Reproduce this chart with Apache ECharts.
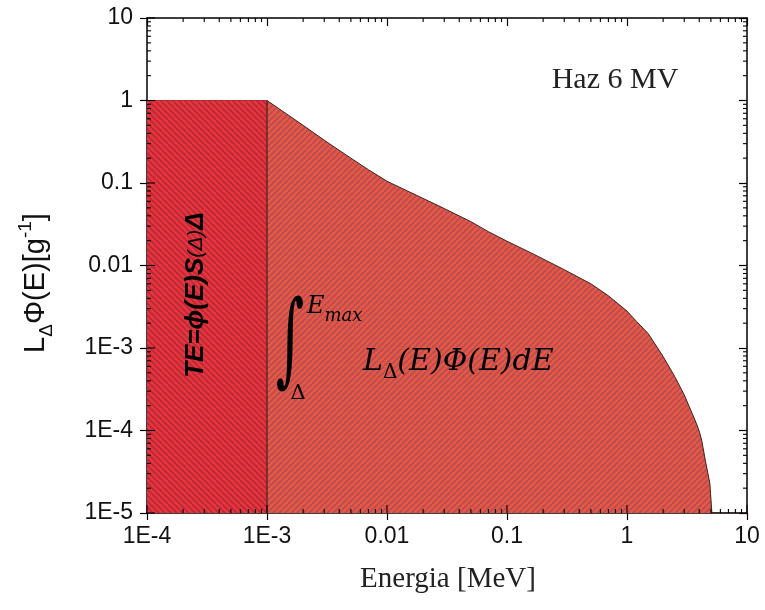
<!DOCTYPE html>
<html>
<head>
<meta charset="utf-8">
<script src="https://cdn.jsdelivr.net/npm/echarts@6/dist/echarts.min.js"></script>
<style>
  html, body { margin: 0; padding: 0; background: #fff; }
  #chart { width: 765px; height: 610px; }
</style>
</head>
<body>
<div id="chart"></div>
<script>
// Bloque izquierdo (1E-4 .. 1E-3), valor constante 1
const energiaBloque = [1e-4, 1e-3, 1e-3];
const valorBloque = [1, 1, 1e-5];

// Curva L_delta * Phi(E), haz 6 MV
const energiaCurva = [1e-3, 1e-3, 2e-3, 3e-3, 5e-3, 7e-3, 0.01, 0.02, 0.03, 0.05, 0.07, 0.1, 0.15, 0.2, 0.3, 0.5, 0.7, 1, 1.2, 1.5, 1.8, 2, 2.5, 3, 3.5, 3.8, 4, 4.2, 4.5, 4.9, 5.1, 10];
const valorCurva = [1e-5, 1, 0.5, 0.33, 0.2, 0.145, 0.105, 0.065, 0.049, 0.034, 0.0257, 0.0197, 0.0148, 0.012, 0.0089, 0.006, 0.0043, 0.0028, 0.0021, 0.0015, 0.001, 7.9e-4, 4.5e-4, 2.7e-4, 1.6e-4, 1.2e-4, 9.8e-5, 7.5e-5, 4.3e-5, 2.3e-5, 1e-5, 1e-5];

// Décadas de los ejes
const decadasX = [1e-4, 1e-3, 0.01, 0.1, 1, 10];
const decadasY = [1e-5, 1e-4, 1e-3, 0.01, 0.1, 1, 10];

const xMin = decadasX[0], xMax = decadasX[decadasX.length - 1];
const yMin = decadasY[0], yMax = decadasY[decadasY.length - 1];

// ticks menores 2..9 por década
function menores(decadas) {
  const out = [];
  for (let i = 0; i < decadas.length - 1; i++) {
    for (let k = 2; k <= 9; k++) out.push(decadas[i] * k);
  }
  return out;
}
const menoresX = menores(decadasX);
const menoresY = menores(decadasY);

function etiqueta(v) {
  const e = Math.round(Math.log10(v));
  return e >= -2 ? String(Math.pow(10, e)) : '1E' + e;
}

// textura rayada
function rayado(fondo, raya, dir) {
  const s = 6;
  const c = document.createElement('canvas');
  c.width = s; c.height = s;
  const ctx = c.getContext('2d');
  ctx.fillStyle = fondo;
  ctx.fillRect(0, 0, s, s);
  ctx.strokeStyle = raya;
  ctx.lineWidth = 1.6;
  ctx.beginPath();
  for (const i of [-1, 0, 1]) {
    if (dir > 0) { ctx.moveTo(i * s, 0); ctx.lineTo(i * s + s, s); }
    else { ctx.moveTo(i * s, s); ctx.lineTo(i * s + s, 0); }
  }
  ctx.stroke();
  return c;
}

const linea = (x1, y1, x2, y2) => ({
  type: 'line', shape: { x1: x1, y1: y1, x2: x2, y2: y2 }, style: { stroke: '#000', lineWidth: 1.1 }
});

// marcas menores (y mayores hacia dentro) a partir de las escalas del gráfico
function dibujaMarcas(params, api) {
  const a = api.coord([xMin, yMin]);
  const b = api.coord([xMax, yMax]);
  const left = a[0], bottom = a[1], right = b[0], top = b[1];
  const ch = [];
  menoresX.forEach(v => {
    const px = api.coord([v, yMin])[0];
    ch.push(linea(px, bottom, px, bottom - 4));
    ch.push(linea(px, top, px, top + 4));
  });
  decadasX.forEach(v => {
    const px = api.coord([v, yMin])[0];
    ch.push(linea(px, bottom, px, bottom - 8));
  });
  menoresY.forEach(v => {
    const py = api.coord([xMin, v])[1];
    ch.push(linea(left, py, left + 4, py));
    ch.push(linea(right, py, right - 4, py));
  });
  decadasY.forEach(v => {
    const py = api.coord([xMin, v])[1];
    ch.push(linea(left, py, left + 8, py));
  });
  return { type: 'group', children: ch };
}

const chart = echarts.init(document.getElementById('chart'));

const ejeX = {
  type: 'log', logBase: 10, min: xMin, max: xMax, splitNumber: 6,
  axisLine: { lineStyle: { color: '#000', width: 1.5 } },
  splitLine: { show: false }
};
const ejeY = {
  type: 'log', logBase: 10, min: yMin, max: yMax, splitNumber: 7,
  axisLine: { lineStyle: { color: '#000', width: 1.5 } },
  splitLine: { show: false }
};

chart.setOption({
  animation: false,
  backgroundColor: '#fff',
  grid: { left: 147, right: 18, top: 18, bottom: 97 },
  xAxis: [
    Object.assign({}, ejeX, {
      position: 'bottom',
      axisTick: { show: true, inside: false, length: 7, lineStyle: { color: '#000', width: 1.2 } },
      axisLabel: { formatter: etiqueta, color: '#111', fontFamily: 'Liberation Sans', fontSize: 23, margin: 12 }
    }),
    Object.assign({}, ejeX, {
      position: 'top',
      axisTick: { show: true, inside: true, length: 8, lineStyle: { color: '#000', width: 1.2 } },
      axisLabel: { show: false }
    })
  ],
  yAxis: [
    Object.assign({}, ejeY, {
      position: 'left',
      axisTick: { show: true, inside: false, length: 7, lineStyle: { color: '#000', width: 1.2 } },
      axisLabel: { formatter: etiqueta, color: '#111', fontFamily: 'Liberation Sans', fontSize: 23, margin: 14 }
    }),
    Object.assign({}, ejeY, {
      position: 'right',
      axisTick: { show: true, inside: true, length: 8, lineStyle: { color: '#000', width: 1.2 } },
      axisLabel: { show: false }
    })
  ],
  series: [
    // las marcas van primero en la lista y con z alto para quedar encima
    {
      type: 'custom',
      data: [[1, 1]],
      clip: false,
      z: 10,
      renderItem: dibujaMarcas
    },
    {
      type: 'line',
      data: energiaBloque.map((e, i) => [e, valorBloque[i]]),
      showSymbol: false,
      lineStyle: { color: '#b82a33', width: 1 },
      areaStyle: { origin: 'start', opacity: 1, color: { image: rayado('#e8353b', '#b4283a', 1), repeat: 'repeat' } }
    },
    {
      type: 'line',
      data: energiaCurva.map((e, i) => [e, valorCurva[i]]),
      showSymbol: false,
      lineStyle: { color: '#3a2424', width: 1 },
      areaStyle: { origin: 'start', opacity: 1, color: { image: rayado('#e8583f', '#b04c5c', -1), repeat: 'repeat' } }
    }
  ],
  graphic: [
    {
      type: 'text', x: 36, y: 283, rotation: Math.PI / 2,
      style: {
        text: '{n|L}{s|Δ}{n|Φ(E)[g}{p|-1}{n|]}',
        align: 'center', verticalAlign: 'middle', fill: '#111',
        rich: {
          n: { fontFamily: 'Liberation Sans', fontSize: 29, lineHeight: 40, verticalAlign: 'middle' },
          s: { fontFamily: 'Liberation Sans', fontSize: 19, lineHeight: 40, verticalAlign: 'bottom' },
          p: { fontFamily: 'Liberation Sans', fontSize: 19, lineHeight: 40, verticalAlign: 'top' }
        }
      }
    },
    {
      type: 'text', x: 448, y: 579,
      style: { text: 'Energia [MeV]', font: '29px "Liberation Serif"', fill: '#222', align: 'center', verticalAlign: 'middle' }
    },
    {
      type: 'text', x: 615, y: 80,
      style: { text: 'Haz 6 MV', font: '30px "Liberation Serif"', fill: '#222', align: 'center', verticalAlign: 'middle' }
    },
    {
      type: 'text', x: 196, y: 295, rotation: Math.PI / 2, z: 20,
      style: {
        text: '{b|TE=ϕ(E)S}{s|(Δ)}{b|Δ}',
        align: 'center', verticalAlign: 'middle', fill: '#000',
        rich: {
          b: { fontFamily: 'Liberation Sans', fontSize: 26, fontWeight: 'bold', fontStyle: 'italic' },
          s: { fontFamily: 'Liberation Sans', fontSize: 21, fontStyle: 'italic' }
        }
      }
    },
    {
      type: 'text', x: 290, y: 346, z: 20, scaleX: 0.85, scaleY: 1.6,
      style: { text: '∫', font: '64px "DejaVu Serif"', fill: '#000', align: 'center', verticalAlign: 'middle' }
    },
    {
      type: 'text', x: 307, y: 310, z: 20,
      style: {
        text: '{e|E}{m|max}', fill: '#000', verticalAlign: 'middle',
        rich: {
          e: { fontFamily: 'DejaVu Serif', fontStyle: 'italic', fontSize: 24, lineHeight: 30, verticalAlign: 'top' },
          m: { fontFamily: 'DejaVu Serif', fontStyle: 'italic', fontSize: 18, lineHeight: 30, verticalAlign: 'bottom' }
        }
      }
    },
    {
      type: 'text', x: 298, y: 394, z: 20,
      style: { text: 'Δ', font: '21px "DejaVu Serif"', fill: '#000', align: 'center', verticalAlign: 'middle' }
    },
    {
      type: 'text', x: 363, y: 362, z: 20,
      style: {
        text: '{t|L}{s|Δ}{t|(E)Φ(E)dE}', fill: '#000', verticalAlign: 'middle',
        rich: {
          t: { fontFamily: 'DejaVu Serif', fontStyle: 'italic', fontSize: 30, lineHeight: 42, verticalAlign: 'middle' },
          s: { fontFamily: 'DejaVu Serif', fontSize: 20, lineHeight: 42, verticalAlign: 'bottom' }
        }
      }
    }
  ]
});
</script>
</body>
</html>
